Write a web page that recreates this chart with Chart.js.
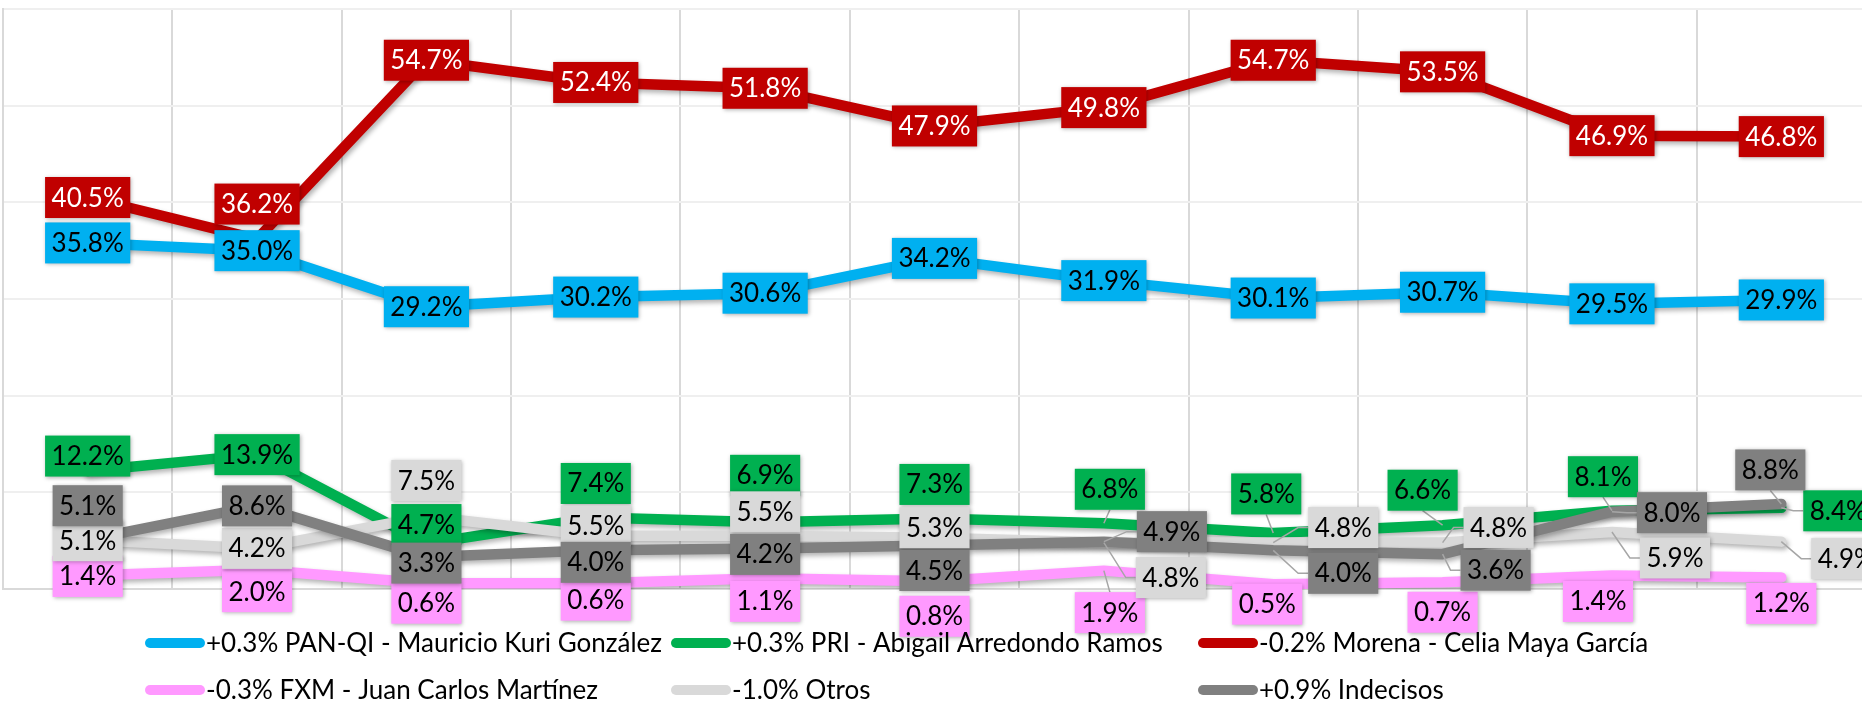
<!DOCTYPE html>
<html lang="es">
<head>
<meta charset="utf-8">
<title>Preferencias electorales</title>
<script src="https://cdn.jsdelivr.net/npm/chart.js@4.4.1/dist/chart.umd.min.js"></script>
<style>
  html, body { margin: 0; padding: 0; background: #fff; overflow: hidden; }
  #wrap { width: 1866px; height: 709px; }
</style>
</head>
<body>
<div id="wrap"><canvas id="encuesta" width="1866" height="709"></canvas></div>
<script>
// mediciones (el eje no muestra etiquetas)
const mediciones = ['M1', 'M2', 'M3', 'M4', 'M5', 'M6', 'M7', 'M8', 'M9', 'M10', 'M11'];

const panQi     = [35.8, 35.0, 29.2, 30.2, 30.6, 34.2, 31.9, 30.1, 30.7, 29.5, 29.9];
const pri       = [12.2, 13.9, 4.7, 7.4, 6.9, 7.3, 6.8, 5.8, 6.6, 8.1, 8.4];
const morena    = [40.5, 36.2, 54.7, 52.4, 51.8, 47.9, 49.8, 54.7, 53.5, 46.9, 46.8];
const fxm       = [1.4, 2.0, 0.6, 0.6, 1.1, 0.8, 1.9, 0.5, 0.7, 1.4, 1.2];
const otros     = [5.1, 4.2, 7.5, 5.5, 5.5, 5.3, 4.8, 4.8, 4.8, 5.9, 4.9];
const indecisos = [5.1, 8.6, 3.3, 4.0, 4.2, 4.5, 4.9, 4.0, 3.6, 8.0, 8.8];

const nombres = [
    '+0.3% PAN-QI - Mauricio Kuri González',
    '+0.3% PRI - Abigail Arredondo Ramos',
    '-0.2% Morena - Celia Maya García',
    '-0.3% FXM - Juan Carlos Martínez',
    '-1.0% Otros',
    '+0.9% Indecisos'
];

const colores = ['#00B0F0', '#00B050', '#C00000', '#FF99FF', '#D9D9D9', '#808080'];
const colorTexto = ['#000', '#000', '#fff', '#000', '#000', '#000'];

// corrimiento de cada etiqueta respecto a su punto [dx, dy] en px
const corrimientos = [
    [[0,0],[0,0],[0,0],[0,0],[0,0],[0,0],[0,0],[0,0],[0,0],[0,0],[0,0]],
    [[0,-15],[0,0],[0,-19],[0,-34],[0,-47],[0,-34],[6,-34],[-7,-39],[-20,-35],[-9,-34],[57,3]],
    [[0,0],[0,-35],[0,0],[0,0],[0,0],[0,0],[0,0],[0,0],[0,0],[0,0],[0,0]],
    [[0,1],[0,22],[0,20],[0,17],[0,23],[0,35],[6,42],[-6,20],[0,30],[-14,26],[0,26]],
    [[0,1],[0,0],[0,-36],[0,-10],[0,-24],[0,-10],[67,35],[70,-15],[56,-15],[63,26],[65,17]],
    [[0,-34],[0,0],[0,6],[0,12],[0,6],[0,25],[68,-10],[70,23],[53,16],[60,1],[-11,-34]]
];

const series = [panQi, pri, morena, fxm, otros, indecisos];

const sombraLineas = {
    id: 'sombraLineas',
    beforeDatasetDraw(chart) {
        const ctx = chart.ctx;
        ctx.save();
        ctx.shadowColor = 'rgba(0,0,0,0.3)';
        ctx.shadowBlur = 5;
        ctx.shadowOffsetX = 2;
        ctx.shadowOffsetY = 3;
    },
    afterDatasetDraw(chart) {
        chart.ctx.restore();
    }
};

const etiquetas = {
    id: 'etiquetas',
    afterDatasetsDraw(chart) {
        const ctx = chart.ctx;
        const size = 26;
        ctx.save();
        ctx.font = size + 'px Lato';
        const cajas = [];
        chart.data.datasets.forEach((ds, i) => {
            const meta = chart.getDatasetMeta(i);
            meta.data.forEach((pt, j) => {
                const txt = ds.data[j].toFixed(1) + '%';
                const [dx, dy] = corrimientos[i][j];
                const w = ctx.measureText(txt).width + 13;
                const h = 41;
                const cx = pt.x + dx, cy = pt.y + dy;
                cajas.push({ i, txt, dx, px: pt.x, py: pt.y, cx, cy,
                    x0: cx - w / 2, x1: cx + w / 2, y0: cy - h / 2, y1: cy + h / 2 });
            });
        });

        // lineas guia de las etiquetas desplazadas
        ctx.strokeStyle = '#a6a6a6';
        ctx.lineWidth = 1.5;
        cajas.forEach(b => {
            if (b.dx === 0) return;
            const gx = Math.max(b.x0 - b.px, 0, b.px - b.x1);
            const gy = Math.max(b.y0 - b.py, 0, b.py - b.y1);
            if (Math.hypot(gx, gy) < 6) return;
            ctx.beginPath();
            ctx.moveTo(b.px, b.py);
            if (b.px < b.x0) {
                ctx.lineTo(b.x0 - 10, b.cy);
                ctx.lineTo(b.x0, b.cy);
            } else if (b.px > b.x1) {
                ctx.lineTo(b.x1 + 10, b.cy);
                ctx.lineTo(b.x1, b.cy);
            } else if (b.py > b.y1) {
                ctx.lineTo(b.cx, b.y1);
            } else {
                ctx.lineTo(b.cx, b.y0);
            }
            ctx.stroke();
        });

        ctx.textAlign = 'center';
        ctx.textBaseline = 'alphabetic';
        cajas.forEach(b => {
            ctx.save();
            ctx.shadowColor = 'rgba(0,0,0,0.3)';
            ctx.shadowBlur = 4;
            ctx.shadowOffsetX = 1;
            ctx.shadowOffsetY = 1;
            ctx.fillStyle = colores[b.i];
            ctx.fillRect(b.x0, b.y0, b.x1 - b.x0, b.y1 - b.y0);
            ctx.restore();
            ctx.fillStyle = colorTexto[b.i];
            ctx.fillText(b.txt, b.cx, b.cy + Math.round(size * 0.36));
        });
        ctx.restore();
    }
};

// leyenda en dos filas de tres columnas
const leyenda = {
    id: 'leyenda',
    afterDraw(chart) {
        const ctx = chart.ctx;
        const cols = [145, 671, 1198];
        const rows = [643, 690];
        ctx.save();
        ctx.font = '26px Lato';
        ctx.textAlign = 'left';
        ctx.textBaseline = 'alphabetic';
        chart.data.datasets.forEach((ds, i) => {
            const x = cols[i % 3];
            const y = rows[Math.floor(i / 3)];
            ctx.strokeStyle = ds.borderColor;
            ctx.lineWidth = 10;
            ctx.lineCap = 'round';
            ctx.beginPath();
            ctx.moveTo(x + 5, y);
            ctx.lineTo(x + 55, y);
            ctx.stroke();
            ctx.fillStyle = '#000';
            ctx.fillText(ds.label, x + 61, y + 9);
        });
        ctx.restore();
    }
};

const ctx = document.getElementById('encuesta').getContext('2d');
const grafica = new Chart(ctx, {
    type: 'line',
    plugins: [sombraLineas, etiquetas, leyenda],
    data: {
        labels: mediciones,
        datasets: series.map((valores, i) => ({
            label: nombres[i],
            data: valores,
            borderColor: colores[i],
            backgroundColor: colores[i],
            borderWidth: 10.5,
            borderCapStyle: 'round',
            borderJoinStyle: 'round',
            pointRadius: 0,
            tension: 0,
            order: series.length - i
        }))
    },
    options: {
        responsive: false,
        animation: false,
        layout: {
            padding: { left: 3, top: 9, right: 0, bottom: 120 }
        },
        scales: {
            x: {
                offset: true,
                grid: { offset: true, color: '#d9d9d9', lineWidth: 2, drawTicks: false },
                border: { display: true, color: '#d9d9d9', width: 2 },
                ticks: { display: false },
                afterFit(scale) { scale.height = 0; }
            },
            y: {
                min: 0,
                max: 60,
                ticks: { display: false, stepSize: 10 },
                grid: { color: '#efefef', lineWidth: 2, drawTicks: false },
                border: { display: true, color: '#d9d9d9', width: 2 },
                afterFit(scale) { scale.width = 0; }
            }
        },
        plugins: {
            legend: { display: false },
            tooltip: { enabled: false }
        }
    }
});
</script>
</body>
</html>
